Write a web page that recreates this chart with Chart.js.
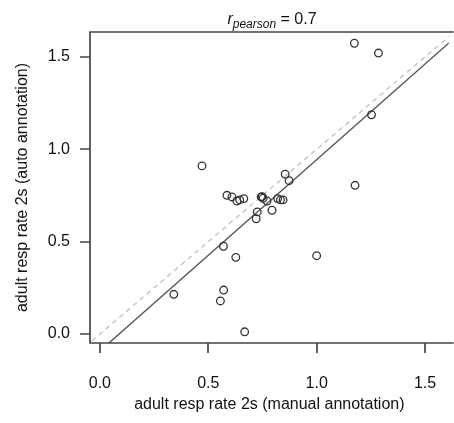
<!DOCTYPE html>
<html>
<head>
<meta charset="utf-8">
<script src="https://cdn.jsdelivr.net/npm/chart.js@4.4.1/dist/chart.umd.min.js"></script>
<style>
  html, body { margin: 0; padding: 0; background: #fff; overflow: hidden; }
  #wrap { position: relative; width: 454px; height: 423px; }
  #title {
    position: absolute; left: 90px; width: 364px; top: 10px;
    text-align: center; font: 16px "Liberation Sans", Arial, sans-serif; color: #111;
  }
  #title sub { font-size: 12px; font-style: italic; }
</style>
</head>
<body>
<div id="wrap">
  <canvas id="chart" width="454" height="423"></canvas>
  <div id="title"><i>r</i><sub>pearson</sub> = 0.7</div>
</div>
<script>
// manual annotation (x) vs auto annotation (y)
const manualRate = [0.341, 0.471, 0.586, 0.609, 0.632, 0.645, 0.664, 0.744, 0.748, 0.753,
  0.771, 0.726, 0.721, 0.794, 0.820, 0.833, 0.845, 0.855, 0.873, 0.570,
  0.627, 0.571, 0.556, 0.668, 1.000, 1.174, 1.285, 1.253, 1.177];
const autoRate = [0.215, 0.910, 0.751, 0.742, 0.720, 0.726, 0.733, 0.742, 0.744, 0.735,
  0.720, 0.661, 0.624, 0.670, 0.733, 0.726, 0.726, 0.865, 0.830, 0.475,
  0.415, 0.238, 0.179, 0.012, 0.424, 1.574, 1.521, 1.187, 0.805];
const tickValues = [0, 0.5, 1, 1.5];
// linear fit (solid) and identity line (dashed)
const fitIntercept = -0.092;
const fitSlope = 1.036;
const lineX = [-0.1, 1.8];

const FONT = '"Liberation Sans", Arial, sans-serif';
const INK = '#444';
const TICK_LEN = 10;

const points = manualRate.map((x, i) => ({ x: x, y: autoRate[i] }));
const fitLine = lineX.map(x => ({ x: x, y: fitIntercept + fitSlope * x }));
const idLine = lineX.map(x => ({ x: x, y: x }));

// R-style box (open on the right, cut by the page edge) plus outside tick marks
const boxPlugin = {
  id: 'box',
  afterDraw(chart) {
    const { ctx, chartArea: a, scales } = chart;
    ctx.save();
    ctx.strokeStyle = INK;
    ctx.lineWidth = 1.7;
    ctx.lineCap = 'butt';
    ctx.beginPath();
    ctx.moveTo(a.right + 5, a.top);
    ctx.lineTo(a.left, a.top);
    ctx.lineTo(a.left, a.bottom);
    ctx.lineTo(a.right + 5, a.bottom);
    ctx.stroke();
    ctx.beginPath();
    tickValues.forEach(v => {
      const px = Math.round(scales.x.getPixelForValue(v));
      ctx.moveTo(px, a.bottom);
      ctx.lineTo(px, a.bottom + TICK_LEN);
      const py = Math.round(scales.y.getPixelForValue(v));
      ctx.moveTo(a.left, py);
      ctx.lineTo(a.left - TICK_LEN, py);
    });
    ctx.stroke();
    ctx.restore();
  }
};

function axis(min, max, title, isY) {
  return {
    type: 'linear',
    min: min,
    max: max,
    afterBuildTicks(scale) {
      scale.ticks = tickValues.map(v => ({ value: v }));
    },
    afterFit(scale) {
      if (isY) {
        scale.width = 90;
        scale.paddingTop = 0;
        scale.paddingBottom = 0;
      } else {
        scale.height = 80;
        scale.paddingLeft = 0;
        scale.paddingRight = 0;
      }
    },
    border: { display: false },
    grid: { display: false, tickLength: TICK_LEN },
    ticks: {
      padding: isY ? 10 : 21,
      color: '#111',
      font: { family: FONT, size: 16 },
      maxRotation: 0,
      callback: v => v.toFixed(1)
    },
    title: {
      display: true,
      text: title,
      color: '#111',
      font: { family: FONT, size: 16 },
      padding: isY ? { top: 13, bottom: 0 } : { top: 0, bottom: 9 }
    }
  };
}

new Chart(document.getElementById('chart'), {
  type: 'scatter',
  data: {
    datasets: [
      {
        data: points,
        pointStyle: 'circle',
        pointRadius: 3.8,
        pointBorderWidth: 1.3,
        pointBorderColor: '#333',
        pointBackgroundColor: 'rgba(0,0,0,0)',
        showLine: false,
        order: 0
      },
      {
        data: fitLine,
        showLine: true,
        borderColor: '#555',
        borderWidth: 1.4,
        pointRadius: 0,
        order: 1
      },
      {
        data: idLine,
        showLine: true,
        borderColor: '#c4c4c4',
        borderWidth: 1.4,
        borderDash: [5, 4],
        pointRadius: 0,
        order: 2
      }
    ]
  },
  options: {
    responsive: false,
    devicePixelRatio: 1,
    animation: false,
    layout: { padding: { top: 32, right: 0, bottom: 0, left: 0 } },
    plugins: { legend: { display: false }, tooltip: { enabled: false } },
    scales: {
      x: axis(-0.0455, 1.609, 'adult resp rate 2s (manual annotation)', false),
      y: axis(-0.0487, 1.635, 'adult resp rate 2s (auto annotation)', true)
    }
  },
  plugins: [boxPlugin]
});
</script>
</body>
</html>
